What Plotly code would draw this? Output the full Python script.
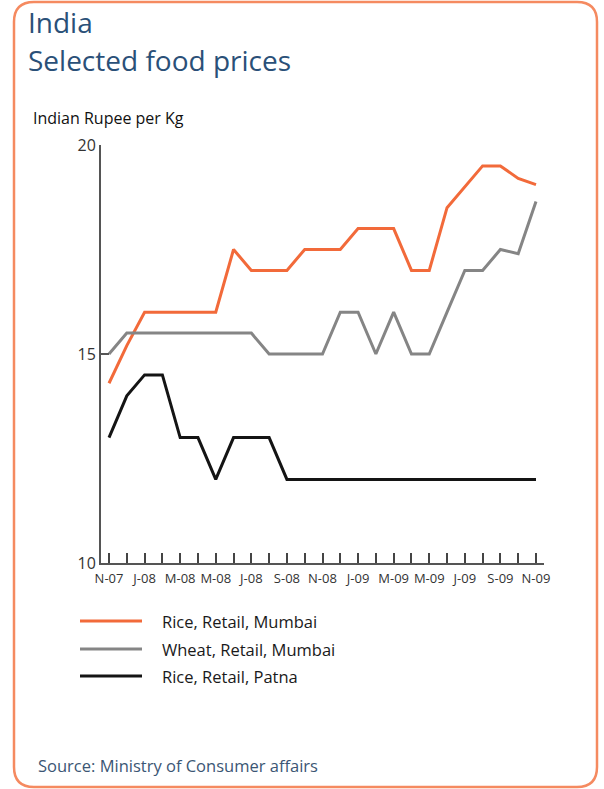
import plotly.graph_objects as go

# ---- data ----
months = ["Nov-07", "Dec-07", "Jan-08", "Feb-08", "Mar-08", "Apr-08", "May-08",
          "Jun-08", "Jul-08", "Aug-08", "Sep-08", "Oct-08", "Nov-08", "Dec-08",
          "Jan-09", "Feb-09", "Mar-09", "Apr-09", "May-09", "Jun-09", "Jul-09",
          "Aug-09", "Sep-09", "Oct-09", "Nov-09"]
tick_labels = ["N-07", "", "J-08", "", "M-08", "", "M-08", "", "J-08", "", "S-08", "",
               "N-08", "", "J-09", "", "M-09", "", "M-09", "", "J-09", "", "S-09", "", "N-09"]
rice_mumbai = [14.3, 15.2, 16, 16, 16, 16, 16, 17.5, 17, 17, 17, 17.5, 17.5, 17.5,
               18, 18, 18, 17, 17, 18.5, 19, 19.5, 19.5, 19.2, 19.05]
wheat_mumbai = [15, 15.5, 15.5, 15.5, 15.5, 15.5, 15.5, 15.5, 15.5, 15, 15, 15, 15,
                16, 16, 15, 16, 15, 15, 16, 17, 17, 17.5, 17.4, 18.65]
rice_patna = [13, 14, 14.5, 14.5, 13, 13, 12, 13, 13, 13, 12, 12, 12, 12, 12, 12,
              12, 12, 12, 12, 12, 12, 12, 12, 12]
series_names = ["Rice, Retail, Mumbai", "Wheat, Retail, Mumbai", "Rice, Retail, Patna"]
series_colors = ["#f26a3a", "#858585", "#141414"]
y_ticks = [10, 15, 20]

# ---- layout geometry ----
W, H = 604, 789
ML, MR, MT, MB = 101, 60, 145, 226
PW, PH = W - ML - MR, H - MT - MB


def px(x):
    return (x - ML) / PW


def py(y):
    return (H - MB - y) / PH


FONT = "Open Sans, Lato, sans-serif"
TITLE_COL = "#2a5078"

fig = go.Figure()
for name, vals, col in zip(series_names, [rice_mumbai, wheat_mumbai, rice_patna], series_colors):
    fig.add_trace(go.Scatter(x=months, y=vals, mode="lines", name=name,
                             line=dict(color=col, width=3), showlegend=False))

# rounded orange frame
x0, y0, x1, y1, r = 14, 2, 597, 787, 20
path = (f"M {px(x0 + r)},{py(y0)} L {px(x1 - r)},{py(y0)} "
        f"Q {px(x1)},{py(y0)} {px(x1)},{py(y0 + r)} "
        f"L {px(x1)},{py(y1 - r)} Q {px(x1)},{py(y1)} {px(x1 - r)},{py(y1)} "
        f"L {px(x0 + r)},{py(y1)} Q {px(x0)},{py(y1)} {px(x0)},{py(y1 - r)} "
        f"L {px(x0)},{py(y0 + r)} Q {px(x0)},{py(y0)} {px(x0 + r)},{py(y0)} Z")
shapes = [dict(type="path", path=path, xref="paper", yref="paper",
               line=dict(color="#f58a60", width=2.5), layer="below")]

annotations = [
    dict(text="India", x=px(26), y=py(22), xref="paper", yref="paper",
         xanchor="left", yanchor="middle", showarrow=False,
         font=dict(family=FONT, size=28, color=TITLE_COL)),
    dict(text="Selected food prices", x=px(26), y=py(60), xref="paper", yref="paper",
         xanchor="left", yanchor="middle", showarrow=False,
         font=dict(family=FONT, size=28, color=TITLE_COL)),
    dict(text="Indian Rupee per Kg", x=px(31), y=py(118), xref="paper", yref="paper",
         xanchor="left", yanchor="middle", showarrow=False,
         font=dict(family=FONT, size=16, color="#111")),
    dict(text="Source: Ministry of Consumer affairs", x=px(36), y=py(765),
         xref="paper", yref="paper", xanchor="left", yanchor="middle", showarrow=False,
         font=dict(family=FONT, size=16.5, color="#3b5674")),
]

# custom legend
legend_y = [621, 649, 676]
for name, col, ly in zip(series_names, series_colors, legend_y):
    shapes.append(dict(type="line", xref="paper", yref="paper",
                       x0=px(80), x1=px(142), y0=py(ly), y1=py(ly),
                       line=dict(color=col, width=3)))
    annotations.append(dict(text=name, x=px(160), y=py(ly), xref="paper", yref="paper",
                            xanchor="left", yanchor="middle", showarrow=False,
                            font=dict(family=FONT, size=16.5, color="#1a1a1a")))

fig.update_layout(
    width=W, height=H,
    margin=dict(l=ML, r=MR, t=MT, b=MB, autoexpand=False),
    paper_bgcolor="white", plot_bgcolor="white",
    shapes=shapes, annotations=annotations,
    showlegend=False,
    xaxis=dict(type="category", categoryorder="array", categoryarray=months,
               range=[-0.45, 24.45], tickvals=months, ticktext=tick_labels,
               showline=True, linecolor="#555", linewidth=2,
               ticks="inside", ticklen=10, tickwidth=1.5, tickcolor="#444",
               ticklabelstandoff=2,
               showgrid=False, zeroline=False, automargin=False,
               tickfont=dict(family=FONT, size=13, color="#333")),
    yaxis=dict(range=[10, 20], tickvals=y_ticks, ticktext=[str(v) for v in y_ticks],
               showline=True, linecolor="#555", linewidth=2,
               ticks="inside", ticklen=8, tickwidth=2, tickcolor="#555",
               showgrid=False, zeroline=False, automargin=False,
               tickfont=dict(family=FONT, size=16, color="#333")),
)

fig.write_html("out.html", config={"displayModeBar": False},
               post_script="document.body.style.margin='0';document.body.style.overflow='hidden';")
